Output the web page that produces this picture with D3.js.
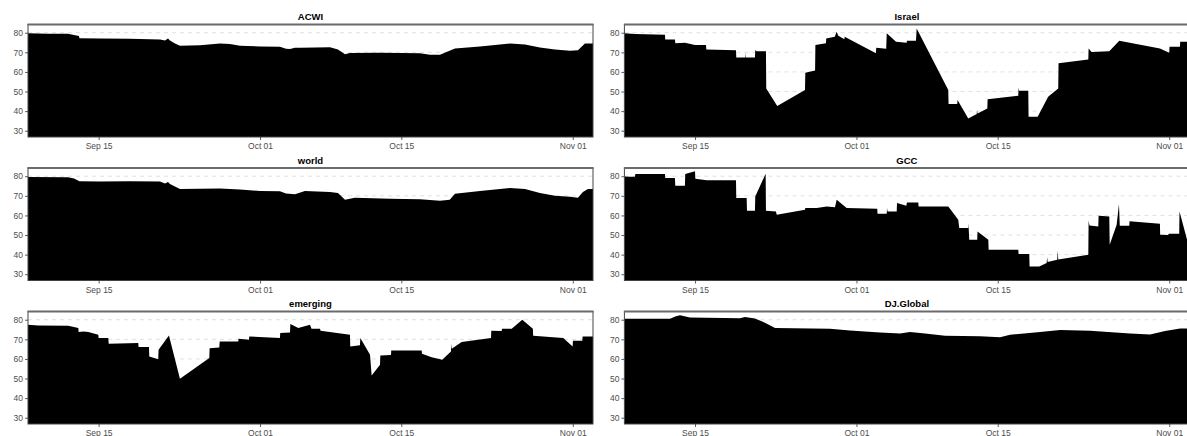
<!DOCTYPE html>
<html><head><meta charset="utf-8">
<script src="https://cdn.jsdelivr.net/npm/d3@7"></script>
<style>body{margin:0;background:#fff}svg{display:block}</style>
</head><body>
<script>
// ---- data (x = days after 2023-09-08 00:00, y = value) ----
const START = new Date(2023, 8, 8);
const END = new Date(2023, 10, 3);
const panelNames = ["ACWI", "Israel", "world", "GCC", "emerging", "DJ.Global"];
const yTicks = [30, 40, 50, 60, 70, 80];
const xTicks = [new Date(2023, 8, 15), new Date(2023, 9, 1), new Date(2023, 9, 15), new Date(2023, 10, 1)];

const acwi = [[0,79.7],[1.98,79.5],[3.96,79.5],[4.56,78.9],[5.05,78.3],[5.1,77.2],[7.14,77.0],[10.1,76.9],[13.08,76.6],[13.58,76.1],[13.88,77.0],[14.07,76.0],[14.57,74.5],[15.06,73.3],[17.05,73.6],[19.03,74.5],[20.02,74.2],[21.01,73.3],[23.0,73.0],[24.97,72.9],[25.57,71.8],[25.97,71.7],[26.46,72.3],[26.96,72.4],[29.93,72.6],[30.72,71.5],[31.42,69.0],[31.91,69.7],[34.89,69.8],[38.85,69.5],[39.84,68.8],[40.83,68.8],[42.32,72.0],[44.8,73.0],[47.77,74.5],[49.26,74.0],[50.74,72.5],[52.23,71.5],[53.72,70.8],[54.51,71.0],[55.2,74.5],[56,74.5]];

const world = [[0,79.6],[3.96,79.5],[4.56,78.8],[5.1,77.4],[7.1,77.3],[10.1,77.4],[13.08,77.3],[13.58,76.3],[13.88,77.0],[14.07,76.0],[15.06,73.5],[17.05,73.6],[19.03,73.8],[21.01,73.2],[23.0,72.5],[24.97,72.3],[25.57,71.2],[26.46,70.8],[27.45,72.5],[29.93,72.0],[30.72,71.5],[31.42,68.0],[32.4,69.0],[35.9,68.5],[38.85,68.2],[40.83,67.5],[41.8,68.0],[42.32,71.0],[44.8,72.5],[47.77,74.0],[49.26,73.5],[50.74,71.5],[52.23,70.0],[53.72,69.5],[54.51,69.0],[55.0,72.0],[55.5,73.5],[56,73.5]];

const emerging = [[0,77.4],[1.02,77.1],[3.99,76.9],[4.99,75.8],[5.02,73.7],[5.5,74.0],[5.98,73.7],[6.97,72.3],[7.0,70.7],[7.96,70.7],[8.0,67.8],[10.93,68.1],[10.96,66.1],[11.99,66.1],[12.02,61.3],[12.91,59.9],[12.94,64.7],[13.97,72.0],[15.06,49.9],[17.97,60.5],[18.0,65.5],[18.96,65.8],[19.0,68.9],[20.84,68.9],[20.87,70.3],[21.9,69.8],[21.93,71.5],[24.97,70.7],[25.0,73.2],[25.97,73.5],[26.0,77.8],[26.79,75.8],[27.95,77.4],[28.1,75.4],[28.94,75.4],[29.0,74.4],[31.91,72.3],[31.94,66.4],[32.9,67.0],[32.94,70.7],[33.9,62.1],[34.06,51.6],[34.89,57.0],[34.92,61.8],[35.98,62.0],[36.0,64.3],[39.02,64.3],[39.05,62.7],[40.01,60.8],[41.06,59.6],[41.92,63.8],[41.95,67.8],[42.0,65.2],[42.98,68.6],[45.89,70.7],[45.92,74.4],[46.95,74.2],[46.98,75.4],[47.94,75.4],[48.99,80.0],[50.04,75.4],[50.07,71.8],[53.05,70.7],[53.98,66.4],[54.01,69.3],[54.94,69.3],[54.97,71.5],[56,71.5]];

const israel = [[0,79.7],[1.05,79.3],[4.02,79.0],[4.05,76.6],[5.01,76.6],[5.05,74.6],[6.0,74.9],[7.0,73.7],[8.09,73.7],[8.12,71.5],[11.06,71.0],[11.09,67.4],[11.95,67.4],[11.97,70.0],[12.0,67.4],[12.94,67.4],[12.97,71.2],[13.1,70.5],[14.03,70.5],[14.06,51.6],[15.15,42.6],[17.9,50.8],[17.93,59.6],[18.9,60.7],[18.93,73.7],[19.98,74.6],[20.0,77.1],[20.85,78.0],[21.04,80.5],[21.2,78.5],[21.8,76.7],[21.83,78.0],[24.93,69.5],[24.96,72.3],[25.95,71.8],[26.0,79.7],[26.92,75.4],[27.98,74.9],[28.0,75.9],[28.9,75.9],[28.97,82.2],[32.1,50.8],[32.13,43.6],[32.99,43.6],[33.02,45.7],[34.08,36.3],[34.92,38.5],[34.95,40.6],[35.0,38.8],[35.97,41.4],[36.0,46.0],[39.04,47.9],[39.07,52.1],[39.12,50.4],[40.03,50.4],[40.06,37.1],[40.96,37.1],[42.0,47.3],[43.0,51.6],[43.03,64.4],[45.98,66.4],[46.01,72.0],[46.3,70.2],[48.06,70.5],[49.05,75.9],[53.08,72.0],[54.0,69.8],[54.03,72.9],[55.06,72.9],[55.09,75.4],[56.3,75.4]];

const gcc = [[0,79.9],[0.55,79.7],[1.05,79.7],[1.08,81.1],[4.02,81.2],[4.05,79.1],[5.01,79.1],[5.04,75.2],[6.0,75.2],[6.03,81.2],[7.0,82.5],[7.03,78.7],[8.16,77.9],[11.06,77.9],[11.09,68.9],[12.12,68.9],[12.15,62.4],[12.94,62.4],[12.97,69.7],[14.0,81.3],[14.03,62.4],[15.02,62.0],[15.1,60.4],[17.9,62.9],[17.93,63.8],[19.06,63.8],[20.05,64.6],[20.87,64.2],[21.04,68.0],[22.03,63.8],[25.06,63.4],[25.09,60.9],[26.0,60.9],[26.03,63.8],[26.08,62.0],[26.99,62.0],[27.02,66.3],[27.95,65.0],[28.0,66.6],[29.13,66.6],[29.16,64.6],[32.1,64.6],[33.09,57.8],[33.19,53.6],[34.08,53.6],[34.1,56.1],[34.18,47.6],[34.97,47.6],[35.0,51.8],[36.07,47.6],[36.1,42.5],[39.04,42.5],[39.07,40.3],[40.13,40.3],[40.16,34.0],[41.12,34.0],[41.85,35.7],[41.9,38.6],[41.95,36.2],[42.9,37.4],[42.95,42.1],[43.0,37.5],[45.98,40.0],[46.01,57.3],[46.1,54.8],[46.97,54.4],[47.0,59.8],[48.06,59.4],[48.1,45.1],[48.79,55.3],[49.02,65.8],[49.1,54.7],[50.04,54.7],[50.07,57.0],[53.08,55.8],[53.1,50.2],[53.9,50.0],[53.95,50.6],[54.99,50.6],[55.02,62.0],[55.77,47.6],[56.3,46.5]];

const djGlobal = [[0,80.5],[4.52,80.5],[5.11,81.8],[5.51,82.3],[6.5,81.2],[11.46,80.8],[11.95,81.4],[12.94,80.6],[13.93,78.5],[14.93,75.8],[20.38,75.4],[22.36,74.5],[25.33,73.5],[27.32,73.0],[28.31,73.8],[29.8,73.0],[31.78,71.8],[35.25,71.6],[37.23,71.0],[38.22,72.3],[41.2,73.8],[43.18,74.8],[46.15,74.4],[50.12,73.0],[52.1,72.5],[53.59,74.3],[55.08,75.5],[56.3,75.5]];

const seriesList = [acwi, israel, world, gcc, emerging, djGlobal];

// ---- layout ----
const W = 1187, H = 436;
const colX = [28, 624.4], pw = 565;
const rowY = [24.5, 168, 311.5], ph = 112.5;
const FONT = "'Liberation Sans', Arial, Helvetica, sans-serif";

const svg = d3.select("body").append("svg").attr("width", W).attr("height", H)
  .style("font-family", FONT);

const x = d3.scaleTime().domain([START, END]).range([0, pw]);
const y = d3.scaleLinear().domain([26.8, 84.2]).range([ph, 0]);
const toDate = d => new Date(START.getTime() + d * 864e5);

const area = d3.area()
  .x(d => x(toDate(d[0])))
  .y0(ph)
  .y1(d => y(d[1]));

panelNames.forEach((name, i) => {
  const c = i % 2, r = Math.floor(i / 2);
  const g = svg.append("g").attr("transform", `translate(${colX[c]},${rowY[r]})`);
  const cid = "clip" + i;
  g.append("clipPath").attr("id", cid).append("rect").attr("width", pw).attr("height", ph);

  // gridlines
  g.append("g").selectAll("line").data(yTicks).join("line")
    .attr("x1", 0).attr("x2", pw)
    .attr("y1", d => y(d)).attr("y2", d => y(d))
    .attr("stroke", "#d4d4d4").attr("stroke-width", 0.7)
    .attr("stroke-dasharray", "4,4");

  // area
  g.append("path").datum(seriesList[i])
    .attr("clip-path", `url(#${cid})`)
    .attr("d", area).attr("fill", "#000");

  // border
  g.append("rect").attr("width", pw).attr("height", ph)
    .attr("fill", "none").attr("stroke", "#444").attr("stroke-width", 1);
  g.append("line").attr("x1", -0.5).attr("x2", pw + 0.5).attr("y1", 0).attr("y2", 0)
    .attr("stroke", "#6a6a6a").attr("stroke-width", 2);

  // axes
  const ya = g.append("g").call(d3.axisLeft(y).tickValues(yTicks).tickSize(3).tickPadding(2));
  const xa = g.append("g").attr("transform", `translate(0,${ph})`)
    .call(d3.axisBottom(x).tickValues(xTicks).tickFormat(d3.timeFormat("%b %d")).tickSize(3).tickPadding(3));
  [ya, xa].forEach(a => {
    a.select(".domain").remove();
    a.selectAll(".tick line").attr("stroke", "#333").attr("stroke-width", 0.8);
    a.selectAll(".tick text").attr("fill", "#4d4d4d").style("font-size", "8.5px").style("font-family", FONT);
  });

  // title
  g.append("text").attr("x", pw / 2).attr("y", -4.5)
    .attr("text-anchor", "middle").style("font-size", "9.5px").style("font-weight", "bold")
    .attr("fill", "#000").text(name);
});
</script>
</body></html>
